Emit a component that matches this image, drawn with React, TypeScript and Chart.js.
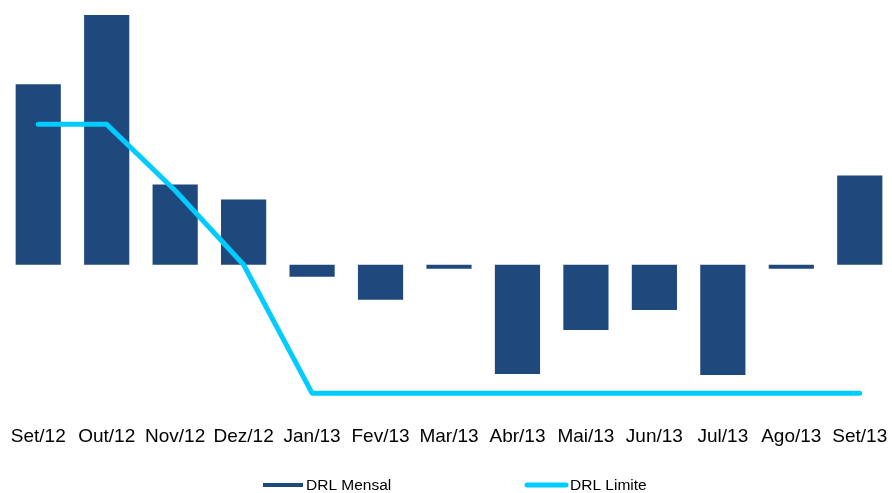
import React, { useEffect, useRef } from "react";
import { Chart, registerables } from "chart.js";

Chart.register(...registerables);

const categories = ["Set/12", "Out/12", "Nov/12", "Dez/12", "Jan/13", "Fev/13", "Mar/13", "Abr/13", "Mai/13", "Jun/13", "Jul/13", "Ago/13", "Set/13"];
const drlMensal = [180, 249, 80, 65, -12, -35, -4, -109, -65, -45, -110, -4, 89];
const drlLimite = [140, 140, 74, 0, -128, -128, -128, -128, -128, -128, -128, -128, -128];
const seriesNames = ["DRL Mensal", "DRL Limite"];

const BAR_COLOR = "#1F497D";
const LINE_COLOR = "#00CCFF";
const FONT = "'Liberation Sans', Arial, sans-serif";

const legendPlugin = {
  id: "customLegend",
  afterDraw(chart: any) {
    const ctx = chart.ctx;
    const y = 485;
    const starts = [263, 525];
    ctx.save();
    ctx.font = `15.5px ${FONT}`;
    ctx.textBaseline = "middle";
    ctx.fillStyle = "#000";
    chart.data.datasets.forEach((ds: any, i: number) => {
      const x = starts[i];
      if (ds.type === "line") {
        ctx.strokeStyle = ds.borderColor;
        ctx.lineWidth = 5;
        ctx.lineCap = "round";
        ctx.beginPath();
        ctx.moveTo(x + 2, y);
        ctx.lineTo(x + 41, y);
        ctx.stroke();
        ctx.fillStyle = "#000";
        ctx.fillText(ds.label, x + 45, y + 1);
      } else {
        ctx.fillStyle = ds.backgroundColor;
        ctx.fillRect(x, y - 2, 40, 4);
        ctx.fillStyle = "#000";
        ctx.fillText(ds.label, x + 43, y + 1);
      }
    });
    ctx.restore();
  },
};

// widen the category axis slightly so the last category runs to the canvas edge, as in the reference
const stretchXPlugin = {
  id: "stretchX",
  afterLayout(chart: any) {
    const x = chart.scales.x;
    x.left = 4;
    x.right = 894;
    x.width = x.right - x.left;
    x.configure();
  },
};

export default function App() {
  const ref = useRef<HTMLCanvasElement | null>(null);
  useEffect(() => {
    document.body.style.margin = "0";
    const chart = new Chart(ref.current as HTMLCanvasElement, {
      type: "bar",
      data: {
        labels: categories,
        datasets: [
          {
            type: "bar",
            label: seriesNames[0],
            data: drlMensal,
            backgroundColor: BAR_COLOR,
            borderWidth: 0,
            barPercentage: 0.66,
            categoryPercentage: 1,
            order: 1,
          } as any,
          {
            type: "line",
            label: seriesNames[1],
            data: drlLimite,
            borderColor: LINE_COLOR,
            backgroundColor: LINE_COLOR,
            borderWidth: 5,
            pointRadius: 0,
            tension: 0,
            borderCapStyle: "round",
            borderJoinStyle: "round",
            clip: false,
            order: 0,
          } as any,
        ],
      },
      options: {
        animation: false,
        responsive: false,
        maintainAspectRatio: false,
        layout: { padding: { left: 3, right: 0, top: 5, bottom: 35 } },
        plugins: { legend: { display: false }, tooltip: { enabled: false } },
        scales: {
          x: {
            grid: { display: false, drawTicks: false },
            border: { display: false },
            ticks: { color: "#000", font: { family: FONT, size: 19 }, padding: 10, maxRotation: 0, autoSkip: false },
          },
          y: {
            display: false,
            min: -150,
            max: 259,
          },
        },
      },
      plugins: [legendPlugin, stretchXPlugin],
    });
    return () => chart.destroy();
  }, []);
  return <canvas ref={ref} width={892} height={493} style={{ display: "block" }} />;
}
